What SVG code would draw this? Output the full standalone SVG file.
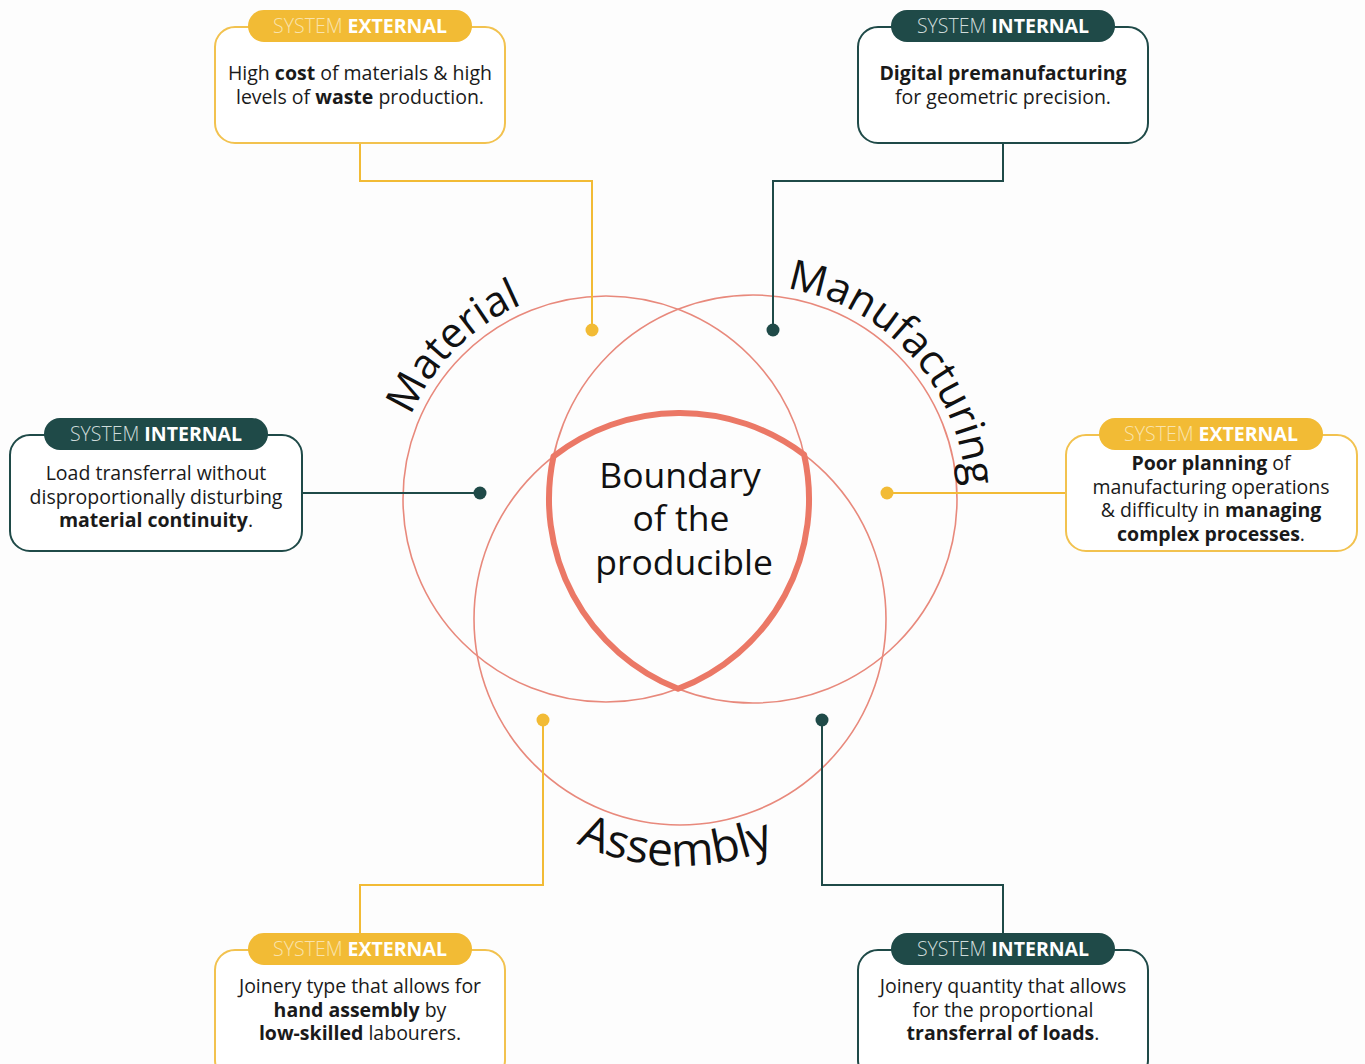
<svg xmlns="http://www.w3.org/2000/svg" width="1365" height="1064" viewBox="0 0 1365 1064">
  <defs>
    <style>
      .ring { fill: none; stroke: #e8897c; stroke-width: 1.6; }
      .core { fill: none; stroke: #eb7866; stroke-width: 6; stroke-linejoin: round; }
      .label { font-family: "Open Sans", "Liberation Sans", sans-serif; font-size: 42px; fill: #111; }
      .center { font-family: "Open Sans", "Liberation Sans", sans-serif; font-size: 35.5px; fill: #111; text-anchor: middle; }
      .box-ext { fill: #fff; stroke: #f2c24f; stroke-width: 2; }
      .box-int { fill: #fff; stroke: #1f4a48; stroke-width: 2; }
      .pill-ext { fill: #f2bb35; }
      .pill-int { fill: #1f4a48; }
      .head { font-family: "Open Sans", "Liberation Sans", sans-serif; font-size: 19.5px; text-anchor: middle; }
      .head-ext .thin { fill: #f9e3ad; font-weight: 300; }
      .head-int .thin { fill: #cfdcdb; font-weight: 300; }
      .head .bold { fill: #fff; font-weight: 700; }
      .body { font-family: "Open Sans", "Liberation Sans", sans-serif; font-size: 19.5px; fill: #1a1a1a; text-anchor: middle; }
      .body .b { font-weight: 700; }
      .wire-ext { fill: none; stroke: #f2bb35; stroke-width: 2; }
      .wire-int { fill: none; stroke: #1f4a48; stroke-width: 2; }
      .dot-ext { fill: #f2bb35; }
      .dot-int { fill: #1f4a48; }
    </style>
    <path id="arc-material" d="M 394 499 A 212 212 0 0 1 818 499"/>
    <path id="arc-manufacturing" d="M 540 499 A 213 213 0 0 1 966 499 A 213 213 0 0 1 753 712"/>
    <path id="arc-assembly" d="M 433 619 A 247 247 0 0 0 927 619"/>
  </defs>

  <rect width="1365" height="1064" fill="#fdfdfd"/>

  <!-- Three overlapping domains -->
  <g id="venn">
    <circle class="ring" cx="606" cy="499" r="203"/>
    <circle class="ring" cx="753" cy="499" r="204"/>
    <circle class="ring" cx="680" cy="619" r="206"/>
    <path class="core" d="M 553.5 456.4 A 206 206 0 0 1 804.1 454.6 A 203 203 0 0 1 678.1 688.8 A 204 204 0 0 1 553.5 456.4 Z"/>
  </g>

  <g id="domain-labels">
    <text class="label"><textPath href="#arc-material" startOffset="166" text-anchor="middle">Material</textPath></text>
    <text class="label"><textPath href="#arc-manufacturing" startOffset="512" text-anchor="middle">Manufacturing</textPath></text>
    <text class="label" style="font-size:46px"><textPath href="#arc-assembly" startOffset="383" text-anchor="middle">Assembly</textPath></text>
  </g>

  <g id="boundary">
    <text class="center" x="680" y="488">Boundary<tspan x="681" dy="43">of the</tspan><tspan x="684" dy="44">producible</tspan></text>
  </g>

  <!-- Connectors -->
  <g id="connectors">
    <polyline class="wire-ext" points="360,143 360,181 592,181 592,330"/>
    <circle class="dot-ext" cx="592" cy="330" r="6.5"/>
    <polyline class="wire-int" points="1003,143 1003,181 773,181 773,330"/>
    <circle class="dot-int" cx="773" cy="330" r="6.5"/>
    <polyline class="wire-int" points="302,493 480,493"/>
    <circle class="dot-int" cx="480" cy="493" r="6.5"/>
    <polyline class="wire-ext" points="1066,493 887,493"/>
    <circle class="dot-ext" cx="887" cy="493" r="6.5"/>
    <polyline class="wire-ext" points="360,933 360,885 543,885 543,720"/>
    <circle class="dot-ext" cx="543" cy="720" r="6.5"/>
    <polyline class="wire-int" points="1003,933 1003,885 822,885 822,720"/>
    <circle class="dot-int" cx="822" cy="720" r="6.5"/>
  </g>

  <!-- Callout: material cost -->
  <g id="note-material-cost">
    <rect class="box-ext" x="215" y="27" width="290" height="116" rx="20"/>
    <rect class="pill-ext" x="248" y="10" width="224" height="32" rx="16"/>
    <text class="head head-ext" x="360" y="33"><tspan class="thin">SYSTEM </tspan><tspan class="bold">EXTERNAL</tspan></text>
    <text class="body" x="360" y="80">High <tspan class="b">cost</tspan> of materials &amp; high<tspan x="360" dy="24">levels of </tspan><tspan class="b">waste</tspan> production.</text>
  </g>

  <!-- Callout: digital premanufacturing -->
  <g id="note-premanufacturing">
    <rect class="box-int" x="858" y="27" width="290" height="116" rx="20"/>
    <rect class="pill-int" x="891" y="10" width="224" height="32" rx="16"/>
    <text class="head head-int" x="1003" y="33"><tspan class="thin">SYSTEM </tspan><tspan class="bold">INTERNAL</tspan></text>
    <text class="body" x="1003" y="80"><tspan class="b">Digital premanufacturing</tspan><tspan x="1003" dy="24">for geometric precision.</tspan></text>
  </g>

  <!-- Callout: material continuity -->
  <g id="note-continuity">
    <rect class="box-int" x="10" y="435" width="292" height="116" rx="20"/>
    <rect class="pill-int" x="44" y="418" width="224" height="32" rx="16"/>
    <text class="head head-int" x="156" y="441"><tspan class="thin">SYSTEM </tspan><tspan class="bold">INTERNAL</tspan></text>
    <text class="body" x="156" y="480">Load transferral without<tspan x="156" dy="23.5">disproportionally disturbing</tspan><tspan x="156" dy="23.5" class="b">material continuity</tspan>.</text>
  </g>

  <!-- Callout: planning -->
  <g id="note-planning">
    <rect class="box-ext" x="1066" y="435" width="291" height="116" rx="20"/>
    <rect class="pill-ext" x="1099" y="418" width="224" height="32" rx="16"/>
    <text class="head head-ext" x="1211" y="441"><tspan class="thin">SYSTEM </tspan><tspan class="bold">EXTERNAL</tspan></text>
    <text class="body" x="1211" y="470"><tspan class="b">Poor planning</tspan> of<tspan x="1211" dy="23.7">manufacturing operations</tspan><tspan x="1211" dy="23.7">&amp; difficulty in </tspan><tspan class="b">managing</tspan><tspan x="1211" dy="23.6" class="b">complex processes</tspan>.</text>
  </g>

  <!-- Callout: joinery type -->
  <g id="note-joinery-type">
    <rect class="box-ext" x="215" y="950" width="290" height="130" rx="20"/>
    <rect class="pill-ext" x="248" y="933" width="224" height="32" rx="16"/>
    <text class="head head-ext" x="360" y="956"><tspan class="thin">SYSTEM </tspan><tspan class="bold">EXTERNAL</tspan></text>
    <text class="body" x="360" y="993">Joinery type that allows for<tspan x="360" dy="23.5" class="b">hand assembly</tspan> by<tspan x="360" dy="23.5" class="b">low-skilled</tspan> labourers.</text>
  </g>

  <!-- Callout: joinery quantity -->
  <g id="note-joinery-quantity">
    <rect class="box-int" x="858" y="950" width="290" height="130" rx="20"/>
    <rect class="pill-int" x="891" y="933" width="224" height="32" rx="16"/>
    <text class="head head-int" x="1003" y="956"><tspan class="thin">SYSTEM </tspan><tspan class="bold">INTERNAL</tspan></text>
    <text class="body" x="1003" y="993">Joinery quantity that allows<tspan x="1003" dy="23.5">for the proportional</tspan><tspan x="1003" dy="23.5" class="b">transferral of loads</tspan>.</text>
  </g>
</svg>
